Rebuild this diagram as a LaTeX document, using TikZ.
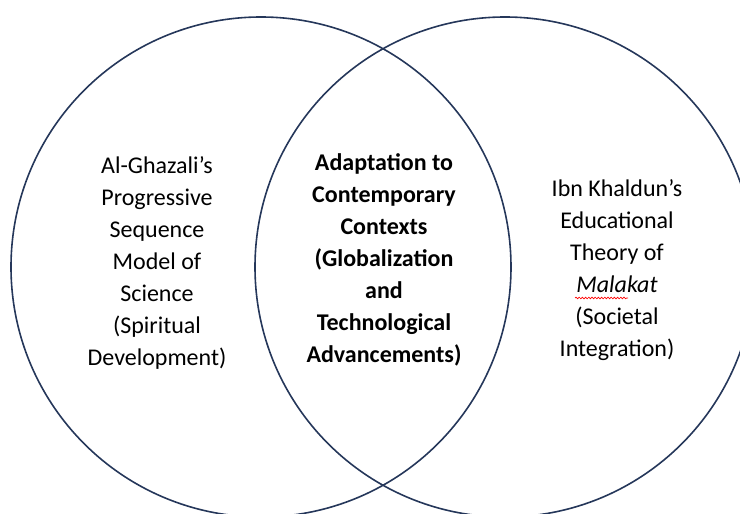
\documentclass[tikz,border=0pt]{standalone}
\usepackage{fontspec}
\setmainfont{Carlito}
\usetikzlibrary{calc,decorations.pathmorphing}
\definecolor{vennline}{HTML}{25375A}
\tikzset{
  venn/.style={draw=vennline, line width=1.2pt},
  label text/.style={align=center, font=\fontsize{18}{24}\selectfont}
}
\begin{document}
\begin{tikzpicture}[x=0.75pt, y=-0.75pt]
            \useasboundingbox (0,0) rectangle (740,514);
            \clip (0,0) rectangle (740,514);
            \coordinate (ghazali c) at (261,267);
            \coordinate (khaldun c) at (505,267);
            \draw[venn] (ghazali c) circle[radius=187.5pt];
            \draw[venn] (khaldun c) circle[radius=187.5pt];
            \node[label text] (ghazali) at (157,263) {Al-Ghazali’s\\Progressive\\Sequence\\Model of\\Science\\(Spiritual\\Development)};
            \node[label text, font=\fontsize{18}{24}\selectfont\bfseries] (overlap) at (384,260) {Adaptation to\\Contemporary\\Contexts\\(Globalization\\and\\Technological\\Advancements)};
            \node[label text] (khaldun) at (617,270) {Ibn Khaldun’s\\Educational\\Theory of\\\textit{Malakat}\\(Societal\\Integration)};
            \draw[red, line width=0.5pt, decorate, decoration={snake, amplitude=0.6pt, segment length=2.4pt}]
              ($(khaldun.center)+(-42,28)$) -- ++(53,0);
        \end{tikzpicture}
\end{document}
